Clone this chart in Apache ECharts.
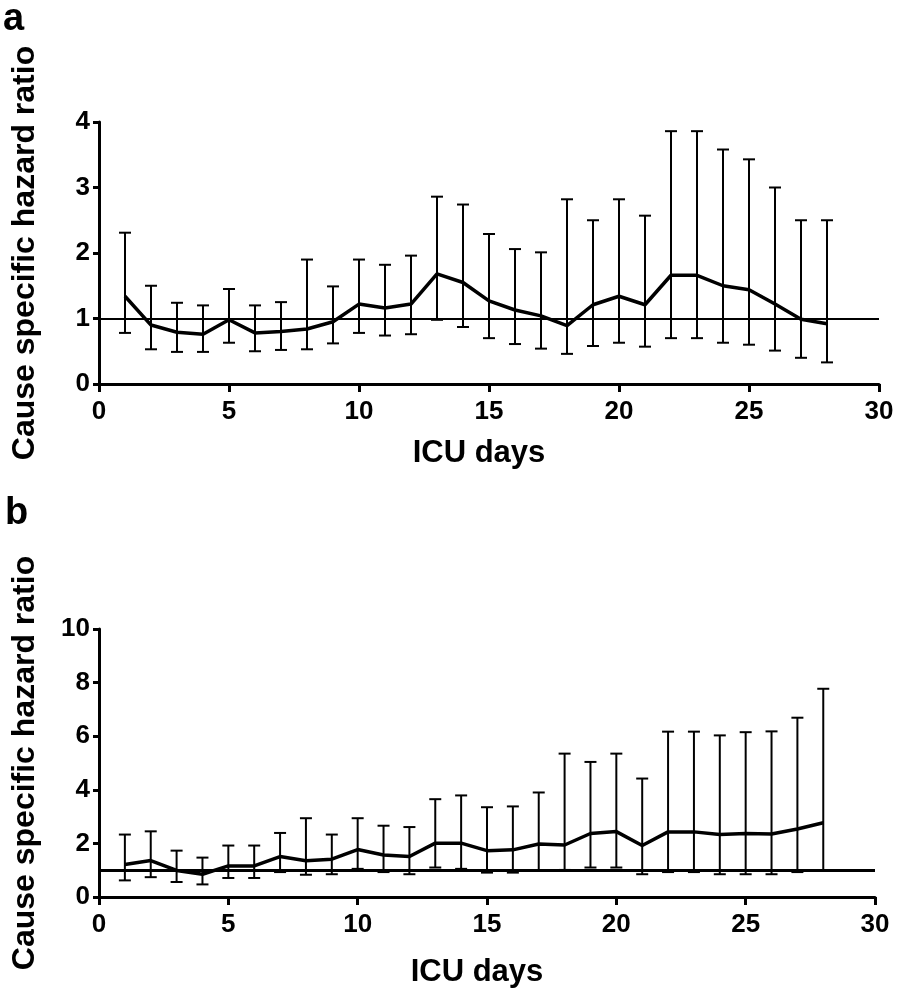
<!DOCTYPE html>
<html>
<head>
<meta charset="utf-8">
<script src="https://cdn.jsdelivr.net/npm/echarts@6/dist/echarts.min.js"></script>
<style>
html, body { margin: 0; padding: 0; background: #fff; }
#main { width: 898px; height: 989px; }
</style>
</head>
<body>
<div id="main"></div>
<script>
/*数据*/
var days = [1,2,3,4,5,6,7,8,9,10,11,12,13,14,15,16,17,18,19,20,21,22,23,24,25,26,27,28];

/*a: hazard ratio with 95% CI*/
var aHR    = [1.34,0.90,0.79,0.76,0.98,0.78,0.80,0.84,0.95,1.22,1.16,1.22,1.68,1.55,1.27,1.13,1.04,0.89,1.21,1.34,1.21,1.66,1.66,1.50,1.44,1.22,0.99,0.92];
var aUpper = [2.31,1.50,1.24,1.20,1.45,1.20,1.25,1.90,1.49,1.90,1.82,1.96,2.86,2.74,2.29,2.06,2.01,2.82,2.50,2.82,2.57,3.86,3.86,3.58,3.43,3.00,2.50,2.50];
var aLower = [0.78,0.53,0.49,0.49,0.63,0.50,0.52,0.53,0.62,0.78,0.74,0.76,0.98,0.87,0.70,0.61,0.54,0.46,0.58,0.63,0.57,0.70,0.70,0.63,0.60,0.51,0.40,0.33];

/*b: hazard ratio with 95% CI*/
var bHR    = [1.21,1.36,0.99,0.85,1.16,1.16,1.51,1.35,1.41,1.77,1.57,1.51,2.01,2.01,1.73,1.76,1.98,1.94,2.37,2.44,1.92,2.43,2.43,2.33,2.37,2.35,2.54,2.77];
var bUpper = [2.33,2.45,1.73,1.47,1.92,1.92,2.39,2.94,2.33,2.94,2.66,2.61,3.65,3.79,3.35,3.38,3.90,5.35,5.04,5.35,4.42,6.17,6.17,6.03,6.15,6.18,6.69,7.77];
var bLower = [0.62,0.74,0.56,0.47,0.71,0.71,0.93,0.83,0.85,1.05,0.93,0.85,1.10,1.05,0.91,0.91,0.97,1.01,1.10,1.10,0.85,0.93,0.93,0.85,0.85,0.85,0.93,0.98];

var refValue = 1;
var xTitle = 'ICU days';
var yTitle = 'Cause specific hazard ratio';

var FONT = "'Liberation Sans', Arial, sans-serif";

function pairs(hr) {
    return days.map(function (d, i) { return [d, hr[i]]; });
}
function bars(lo, hi) {
    return days.map(function (d, i) { return [d, lo[i], hi[i]]; });
}

/*误差棒*/
function errRenderItem(params, api) {
    var x = api.value(0);
    var lo = api.coord([x, api.value(1)]);
    var hi = api.coord([x, api.value(2)]);
    var w = 6;
    var st = { stroke: '#000', lineWidth: 2 };
    return {
        type: 'group',
        children: [
            { type: 'line', shape: { x1: hi[0], y1: hi[1], x2: lo[0], y2: lo[1] }, style: st },
            { type: 'line', shape: { x1: hi[0] - w, y1: hi[1], x2: hi[0] + w, y2: hi[1] }, style: st },
            { type: 'line', shape: { x1: lo[0] - w, y1: lo[1], x2: lo[0] + w, y2: lo[1] }, style: st }
        ]
    };
}

function xAxis(idx, gap) {
    return {
        type: 'value', gridIndex: idx, min: 0, max: 30, interval: 5,
        name: xTitle, nameLocation: 'middle', nameGap: gap,
        nameTextStyle: { fontFamily: FONT, fontWeight: 'bold', fontSize: 31, color: '#000', padding: [0, 20, 0, 0] },
        axisLine: { lineStyle: { color: '#000', width: 3 } },
        axisTick: { inside: false, length: 8, lineStyle: { color: '#000', width: 3 } },
        axisLabel: { margin: 15, fontFamily: FONT, fontWeight: 'bold', fontSize: 26, color: '#000' },
        splitLine: { show: false }
    };
}
function yAxis(idx, max, interval) {
    return {
        type: 'value', gridIndex: idx, min: 0, max: max, interval: interval,
        name: yTitle, nameLocation: 'middle', nameGap: 58,
        nameTextStyle: { fontFamily: FONT, fontWeight: 'bold', fontSize: 32, color: '#000' },
        axisLine: { show: true, lineStyle: { color: '#000', width: 3 } },
        axisTick: { show: true, inside: false, length: 6, lineStyle: { color: '#000', width: 3 } },
        axisLabel: { margin: 9, fontFamily: FONT, fontWeight: 'bold', fontSize: 26, color: '#000' },
        splitLine: { show: false }
    };
}

function refLine(width) {
    return {
        silent: true, symbol: 'none', label: { show: false },
        lineStyle: { color: '#000', width: width, type: 'solid' },
        data: [{ yAxis: refValue }]
    };
}

var chart = echarts.init(document.getElementById('main'), null, { renderer: 'canvas' });
chart.setOption({
    animation: false,
    backgroundColor: '#fff',
    grid: [
        { left: 99, right: 19, top: 122, height: 262 },
        { left: 99, right: 23, top: 629, height: 269 }
    ],
    xAxis: [xAxis(0, 54), xAxis(1, 60)],
    yAxis: [yAxis(0, 4, 1), yAxis(1, 10, 2)],
    graphic: [
        { type: 'text', left: 3, top: 1, style: { text: 'a', fontFamily: FONT, fontWeight: 'bold', fontSize: 38, fill: '#000' } },
        { type: 'text', left: 5, top: 495, style: { text: 'b', fontFamily: FONT, fontWeight: 'bold', fontSize: 38, fill: '#000' } }
    ],
    series: [
        { type: 'custom', xAxisIndex: 0, yAxisIndex: 0, renderItem: errRenderItem, data: bars(aLower, aUpper), z: 2 },
        { type: 'line', xAxisIndex: 0, yAxisIndex: 0, data: pairs(aHR), symbol: 'none',
          lineStyle: { color: '#000', width: 3.5 }, markLine: refLine(2), z: 3 },
        { type: 'custom', xAxisIndex: 1, yAxisIndex: 1, renderItem: errRenderItem, data: bars(bLower, bUpper), z: 2 },
        { type: 'line', xAxisIndex: 1, yAxisIndex: 1, data: pairs(bHR), symbol: 'none',
          lineStyle: { color: '#000', width: 3.5 }, markLine: refLine(3), z: 3 }
    ]
});
</script>
</body>
</html>
